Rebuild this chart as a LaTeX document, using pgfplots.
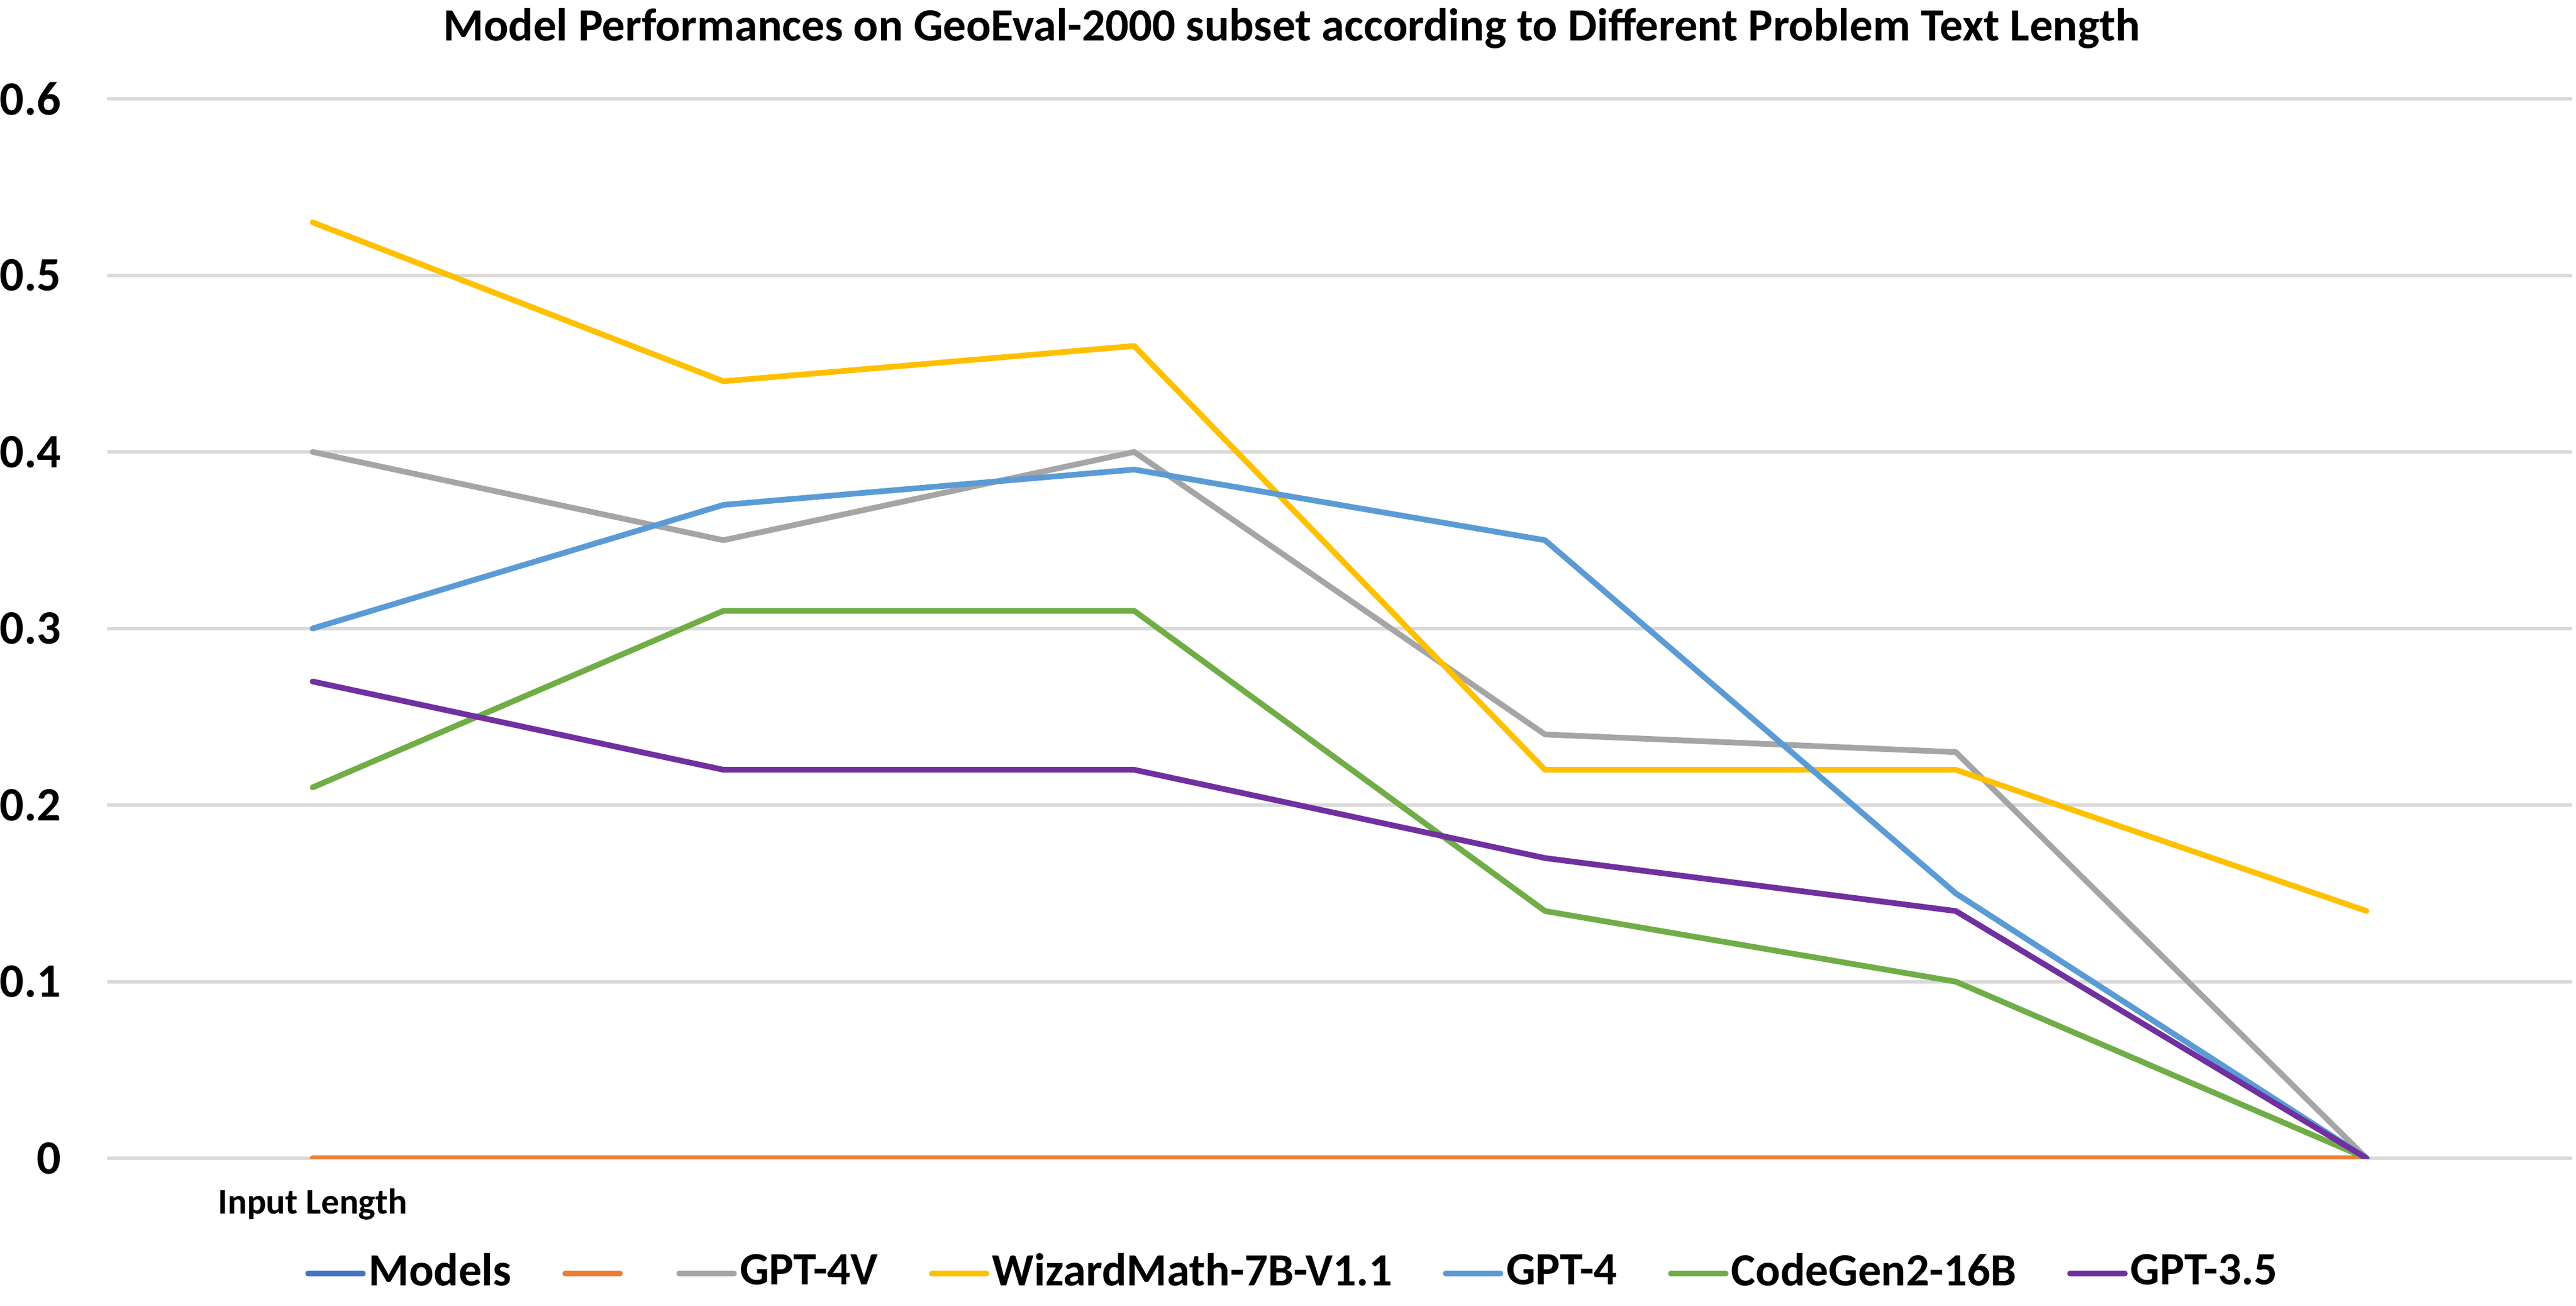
\documentclass[border=0pt]{standalone}
\usepackage{fontspec}
\setmainfont{Carlito}
\usepackage{pgfplots}
\pgfplotsset{compat=1.18}
\definecolor{cModels}{HTML}{4472C4}
\definecolor{cOrange}{HTML}{ED7D31}
\definecolor{cGray}{HTML}{A5A5A5}
\definecolor{cYellow}{HTML}{FFC000}
\definecolor{cBlue}{HTML}{5B9BD5}
\definecolor{cGreen}{HTML}{70AD47}
\definecolor{cPurple}{HTML}{7030A0}
\definecolor{gridc}{HTML}{D9D9D9}
\begin{document}
\begin{tikzpicture}
\useasboundingbox (-18.8pt,-25.8pt) rectangle (432.9pt,203.0pt);
\begin{axis}[
  at={(0pt,0pt)}, anchor=south west,
  scale only axis, width=432.2pt, height=185.7pt,
  xmin=-0.5, xmax=5.5, ymin=0, ymax=0.6,
  axis line style={draw=none},
  major tick style={draw=none},
  ytick={0,0.1,0.2,0.3,0.4,0.5,0.6},
  yticklabels={0,0.1,0.2,0.3,0.4,0.5,0.6},
  ymajorgrids, grid style={color=gridc, line width=0.6pt},
  xtick={0}, xticklabels={Input Length},
  xticklabel style={font=\bfseries\fontsize{6.3}{7}\selectfont, anchor=center, inner sep=0pt, yshift=-8.1pt},
  yticklabel style={font=\bfseries\fontsize{8.4}{10}\selectfont, anchor=east, inner sep=0pt, xshift=-7.9pt},
  every axis plot/.append style={line width=1pt, line cap=round, line join=round, mark=none},
  legend columns=-1,
  legend style={at={(0.481,-0.1088)}, anchor=center, draw=none, fill=none,
    font=\bfseries\fontsize{8.1}{10}\selectfont,
    nodes={inner sep=0.5pt},
    /tikz/every even column/.append style={column sep=8.4pt}},
  legend image code/.code={\draw[#1, line width=1pt, line cap=round] (0pt,0pt) -- (9.6pt,0pt);},
]
\addlegendimage{cModels}
\addlegendentry{Models}
\addplot[cOrange] coordinates {(0,0) (1,0) (2,0) (3,0) (4,0) (5,0)};
\addlegendentry{}
\addplot[cGray] coordinates {(0,0.40) (1,0.35) (2,0.40) (3,0.24) (4,0.23) (5,0)};
\addlegendentry{GPT-4V}
\addplot[cYellow] coordinates {(0,0.53) (1,0.44) (2,0.46) (3,0.22) (4,0.22) (5,0.14)};
\addlegendentry{WizardMath-7B-V1.1}
\addplot[cBlue] coordinates {(0,0.30) (1,0.37) (2,0.39) (3,0.35) (4,0.15) (5,0)};
\addlegendentry{GPT-4}
\addplot[cGreen] coordinates {(0,0.21) (1,0.31) (2,0.31) (3,0.14) (4,0.10) (5,0)};
\addlegendentry{CodeGen2-16B}
\addplot[cPurple] coordinates {(0,0.27) (1,0.22) (2,0.22) (3,0.17) (4,0.14) (5,0)};
\addlegendentry{GPT-3.5}
\end{axis}
\node[font=\bfseries\fontsize{8.1}{9.5}\selectfont, inner sep=0pt, anchor=base] at (207.7pt,195.9pt) {Model Performances on GeoEval-2000 subset according to Different Problem Text Length};
\end{tikzpicture}
\end{document}
